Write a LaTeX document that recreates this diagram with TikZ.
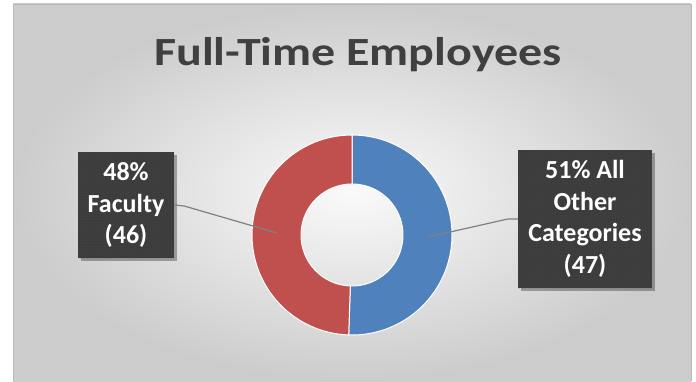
\documentclass[tikz,border=0pt]{standalone}
\usepackage{fontspec}
\setmainfont{Carlito}
\usetikzlibrary{shadows,patterns}

\definecolor{chartblue}{RGB}{79,129,189}
\definecolor{chartred}{RGB}{192,80,77}
\definecolor{titlegray}{RGB}{64,64,64}
\definecolor{boxgray}{RGB}{60,60,60}
\definecolor{dotgray}{RGB}{78,78,78}
\definecolor{leadergray}{RGB}{128,128,128}

\tikzset{
  databox/.style={fill=boxgray, text=white, align=center, inner sep=0pt,
    font=\fontsize{26}{31.5}\selectfont\bfseries,
    postaction={pattern=dots, pattern color=dotgray},
    drop shadow={shadow xshift=3pt, shadow yshift=-3pt, fill=black, opacity=0.3}},
  leader/.style={leadergray, line width=1.2pt},
  wedge/.style={draw=white, line width=1pt}
}

\begin{document}
\begin{tikzpicture}[x=1pt, y=1pt]
        \useasboundingbox (0,0) rectangle (696,381);
        \shade[inner color=white!98!black, outer color=white!80!black] (13,0) rectangle (691,377);
        \draw[white!72!black, thin] (13,0) -- (13,377) -- (691,377) -- (691,0);

        \node[anchor=base, text=titlegray, font=\fontsize{40}{48}\selectfont\bfseries] (title) at (358,315) {\scalebox{1.2}[1]{Full-Time Employees}};

        \draw [wedge, fill=chartblue] (352,246) arc (90:-91.9:100) -- ++(-91.9+180:49) arc (-91.9:90:51) -- cycle;
        \draw [wedge, fill=chartred] (352,246) arc (90:268.1:100) -- ++(88.1:49) arc (268.1:90:51) -- cycle;

        \node[databox, minimum width=96pt, minimum height=106pt] (faculty) at (126,176) {48\%\\Faculty\\(46)};
        \node[databox, minimum width=134pt, minimum height=138pt] (other) at (585,162) {51\% All\\Other\\Categories\\(47)};

        \coordinate (facultyend) at (277,148);
        \coordinate (otherend) at (428,144);
        \draw [leader] (faculty.east) -- ++(10,-1) -- (facultyend);
        \draw [leader] (other.west) -- ++(-10,0) -- (otherend);
\end{tikzpicture}
\end{document}
